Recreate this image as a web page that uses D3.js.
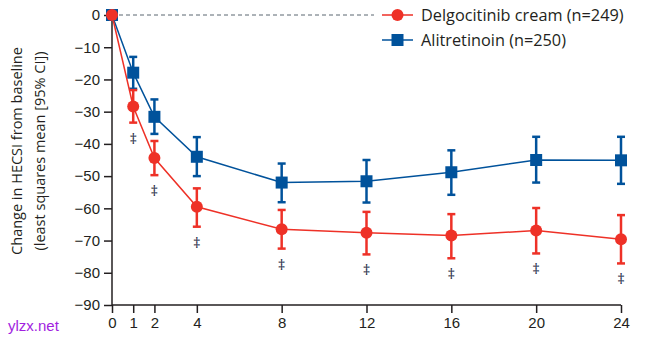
<!DOCTYPE html>
<html>
<head>
<meta charset="utf-8">
<script src="https://cdn.jsdelivr.net/npm/d3@7"></script>
<style>
	body { margin: 0; background: #fff; }
	svg { font-family: "Open Sans", "Noto Sans", sans-serif; }
</style>
</head>
<body>
<svg id="chart" width="648" height="342"></svg>
<script>
// 데이터
const weeks = [0, 1, 2, 4, 8, 12, 16, 20, 24];
const delgoMean = [0, -28.4, -44.4, -59.5, -66.5, -67.6, -68.4, -66.9, -69.6];
const delgoLow  = [null, -33.4, -49.7, -65.7, -72.5, -74.3, -75.5, -74.0, -77.1];
const delgoHigh = [null, -23.3, -39.1, -53.8, -60.5, -61.1, -61.8, -59.9, -62.1];
const alitMean = [0, -17.9, -31.6, -44.0, -52.0, -51.6, -48.8, -45.0, -45.1];
const alitLow  = [null, -22.9, -36.9, -50.0, -58.1, -58.2, -55.8, -52.0, -52.4];
const alitHigh = [null, -13.0, -26.2, -37.9, -46.1, -45.0, -42.0, -37.8, -37.8];
const daggers = ["", "‡", "‡", "‡", "‡", "‡", "‡", "‡", "‡"];
const yTicks = [0, -10, -20, -30, -40, -50, -60, -70, -80, -90];
const xTicks = [0, 1, 2, 4, 8, 12, 16, 20, 24];
const seriesNames = ["Delgocitinib cream (n=249)", "Alitretinoin (n=250)"];

const red = "#ee3127", blue = "#00529b", ink = "#231f20";

const svg = d3.select("#chart");
const x = d3.scaleLinear().domain([0, 24]).range([112, 621]);
const y = d3.scaleLinear().domain([-90, 0]).range([305, 15]);

const fmt = d => d === 0 ? "0" : "\u2212" + Math.abs(d);

// Y축
const yAxis = svg.append("g")
	.attr("transform", `translate(${x(0)},0)`)
	.call(d3.axisLeft(y).tickValues(yTicks).tickSize(8).tickPadding(4).tickFormat(fmt));
yAxis.select(".domain").attr("d", `M0,${y(0)}V${y(-90)}`);

// X축
const xAxis = svg.append("g")
	.attr("transform", `translate(0,${y(-90)})`)
	.call(d3.axisBottom(x).tickValues(xTicks).tickSize(8).tickPadding(4).tickFormat(d3.format("d")));
xAxis.select(".domain").attr("d", `M${x(0)},0H${x(24)}`);

svg.selectAll(".domain").attr("stroke", ink).attr("stroke-width", 1.5);
svg.selectAll(".tick line").attr("stroke", ink).attr("stroke-width", 1.5);
svg.selectAll(".tick text")
	.style("font-size", "15px")
	.attr("fill", ink);

// 0 기준 점선
svg.append("line")
	.attr("x1", x(0)).attr("x2", x(24))
	.attr("y1", y(0)).attr("y2", y(0))
	.attr("stroke", "#5a6670")
	.attr("stroke-width", 1)
	.attr("stroke-dasharray", "4,3");

// Y축 제목
svg.append("text")
	.attr("transform", `translate(22,151) rotate(-90)`)
	.attr("text-anchor", "middle")
	.style("font-size", "14.5px")
	.attr("fill", ink)
	.text("Change in HECSI from baseline");
svg.append("text")
	.attr("transform", `translate(45,151) rotate(-90)`)
	.attr("text-anchor", "middle")
	.style("font-size", "14.5px")
	.attr("fill", ink)
	.text("(least squares mean [95% CI])");

// 시리즈 그리기
function drawSeries(mean, low, high, color) {
	const line = d3.line().x((d, i) => x(weeks[i])).y(d => y(d));
	svg.append("path")
		.datum(mean)
		.attr("d", line)
		.attr("fill", "none")
		.attr("stroke", color)
		.attr("stroke-width", 1.5);

	const idx = weeks.map((w, i) => i).filter(i => low[i] !== null);
	const eb = svg.append("g").attr("stroke", color).attr("stroke-width", 2.5);
	eb.selectAll(".v").data(idx).enter().append("line")
		.attr("x1", i => x(weeks[i])).attr("x2", i => x(weeks[i]))
		.attr("y1", i => y(low[i])).attr("y2", i => y(high[i]));
	eb.selectAll(".lo").data(idx).enter().append("line")
		.attr("x1", i => x(weeks[i]) - 4).attr("x2", i => x(weeks[i]) + 4)
		.attr("y1", i => y(low[i])).attr("y2", i => y(low[i]));
	eb.selectAll(".hi").data(idx).enter().append("line")
		.attr("x1", i => x(weeks[i]) - 4).attr("x2", i => x(weeks[i]) + 4)
		.attr("y1", i => y(high[i])).attr("y2", i => y(high[i]));
}

drawSeries(alitMean, alitLow, alitHigh, blue);
drawSeries(delgoMean, delgoLow, delgoHigh, red);

// 마커
svg.selectAll(".sq").data(alitMean).enter().append("rect")
	.attr("x", (d, i) => x(weeks[i]) - 6)
	.attr("y", d => y(d) - 6)
	.attr("width", 12).attr("height", 12)
	.attr("fill", blue);
svg.selectAll(".dot").data(delgoMean).enter().append("circle")
	.attr("cx", (d, i) => x(weeks[i]))
	.attr("cy", d => y(d))
	.attr("r", 6)
	.attr("fill", red);

// ‡ 표시
svg.selectAll(".dag").data(daggers).enter().append("text")
	.attr("x", (d, i) => x(weeks[i]))
	.attr("y", (d, i) => delgoLow[i] === null ? 0 : y(delgoLow[i]) + 21)
	.attr("text-anchor", "middle")
	.style("font-size", "15px")
	.attr("fill", "#2a2f4a")
	.text(d => d);

// 범례
const legend = svg.append("g");
legend.append("rect")
	.attr("x", 374).attr("y", 2).attr("width", 270).attr("height", 50)
	.attr("fill", "#fff");
const legendColors = [red, blue];
seriesNames.forEach((name, i) => {
	const ly = 15 + i * 25;
	legend.append("line")
		.attr("x1", 382).attr("x2", 413).attr("y1", ly).attr("y2", ly)
		.attr("stroke", legendColors[i]).attr("stroke-width", 1.5);
	if (i === 0) {
		legend.append("circle").attr("cx", 397.5).attr("cy", ly).attr("r", 6).attr("fill", red);
	} else {
		legend.append("rect").attr("x", 391.5).attr("y", ly - 6).attr("width", 12).attr("height", 12).attr("fill", blue);
	}
	legend.append("text")
		.attr("x", 421).attr("y", ly)
		.attr("dy", "0.35em")
		.style("font-size", "16.3px")
		.attr("fill", ink)
		.text(name);
});

// 워터마크
svg.append("text")
	.attr("x", 8).attr("y", 331)
	.style("font-size", "15px")
	.style("font-family", "Liberation Sans, Arial, sans-serif")
	.attr("fill", "#a11ee0")
	.text("ylzx.net");
</script>
</body>
</html>
